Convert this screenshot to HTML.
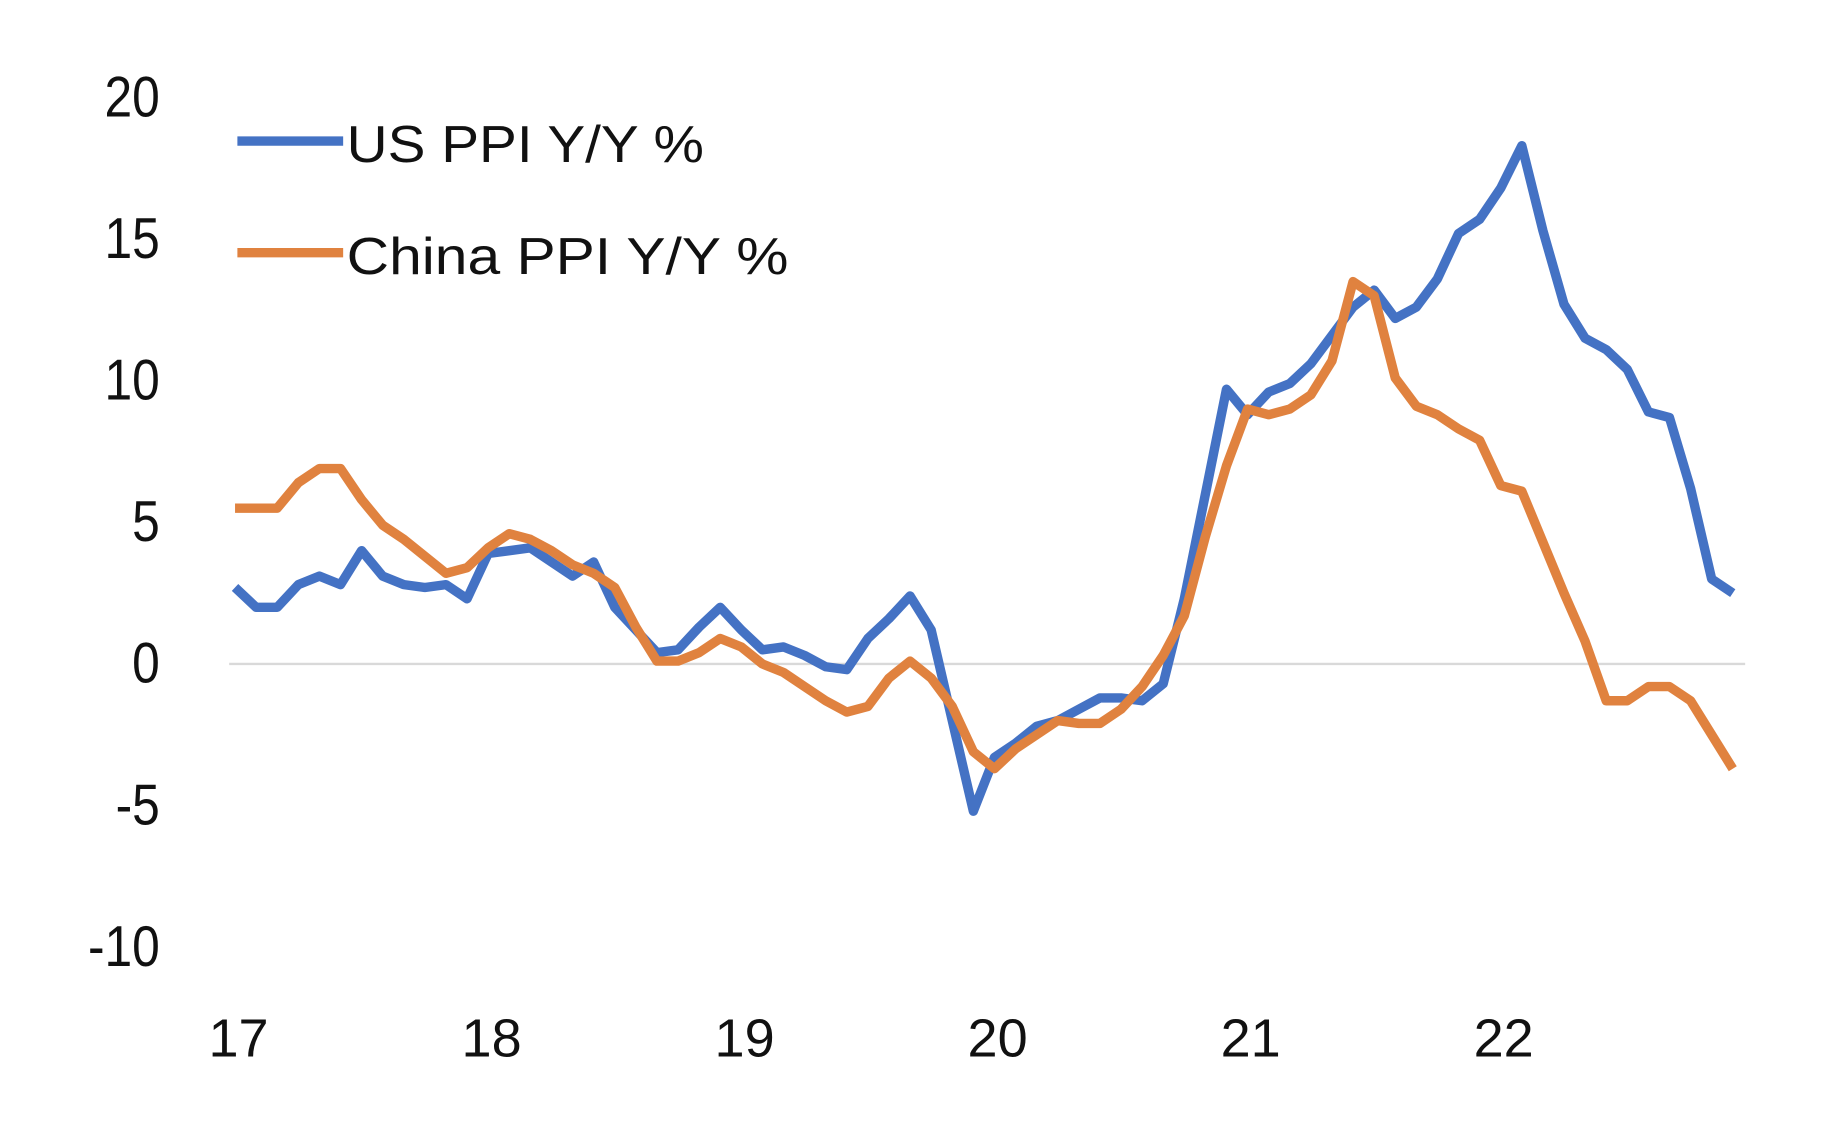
<!DOCTYPE html>
<html><head><meta charset="utf-8"><style>
html,body{margin:0;padding:0;background:#fff;}
svg{display:block;}
text{font-family:"Liberation Sans",sans-serif;fill:#111;}
</style></head>
<body>
<svg width="1838" height="1124" viewBox="0 0 1564 956.5" preserveAspectRatio="none" xmlns="http://www.w3.org/2000/svg">
<g id="yaxis"></g>
<g id="xaxis"></g>
<line id="zero" stroke="#d9d9d9" stroke-width="2"></line>
<g id="series"></g>
<g>
  <g>
    <line x1="202" y1="120" x2="292" y2="120" stroke="#4472C4" stroke-width="8"/>
    <text x="295" y="138" font-size="44" textLength="304" lengthAdjust="spacingAndGlyphs">US PPI Y/Y %</text>
  </g>
  <g>
    <line x1="202" y1="215" x2="292" y2="215" stroke="#E0823F" stroke-width="8"/>
    <text x="295" y="233" font-size="44" textLength="376" lengthAdjust="spacingAndGlyphs">China PPI Y/Y %</text>
  </g>
</g>
</svg>
<script>
const yTicks = [20, 15, 10, 5, 0, -5, -10];
const xLabels = ["17", "18", "19", "20", "21", "22"];
const usPPI = [2.7,2.0,2.0,2.8,3.1,2.8,4.0,3.1,2.8,2.7,2.8,2.3,
 3.9,4.0,4.1,3.6,3.1,3.6,2.0,1.2,0.4,0.5,1.3,2.0,
 1.2,0.5,0.6,0.3,-0.1,-0.2,0.9,1.6,2.4,1.2,-2.0,-5.2,
 -3.3,-2.8,-2.2,-2.0,-1.6,-1.2,-1.2,-1.3,-0.7,2.3,6.0,9.7,
 8.8,9.6,9.9,10.6,11.6,12.6,13.2,12.2,12.6,13.6,15.2,15.7,
 16.8,18.3,15.3,12.7,11.5,11.1,10.4,8.9,8.7,6.2,3.0,2.5];
const chinaPPI = [5.5,5.5,5.5,6.4,6.9,6.9,5.8,4.9,4.4,3.8,3.2,3.4,
 4.1,4.6,4.4,4.0,3.5,3.2,2.7,1.3,0.1,0.1,0.4,0.9,
 0.6,0.0,-0.3,-0.8,-1.3,-1.7,-1.5,-0.5,0.1,-0.5,-1.5,-3.1,
 -3.7,-3.0,-2.5,-2.0,-2.1,-2.1,-1.6,-0.8,0.3,1.7,4.5,7.0,
 9.0,8.8,9.0,9.5,10.7,13.5,13.0,10.1,9.1,8.8,8.3,7.9,
 6.3,6.1,4.3,2.5,0.8,-1.3,-1.3,-0.8,-0.8,-1.3,-2.5,-3.7];

const NS = "http://www.w3.org/2000/svg";
function yScale(v){ return 565 - v * 24.1; }
function xScale(i){ return 200 + i * 17.95; }
function yearX(k){ return 203 + k * 215.3; }

const yaxis = document.getElementById('yaxis');
yTicks.forEach(v => {
  const t = document.createElementNS(NS, 'text');
  
  
  const by = yScale(v) + 16;
  t.setAttribute('x', 0);
  t.setAttribute('y', 0);
  t.setAttribute('font-size', '46');
  t.setAttribute('text-anchor', 'end');
  t.setAttribute('transform', 'translate(136,' + by + ') scale(0.92,1.06)');
  t.textContent = String(v);
  yaxis.appendChild(t);
});
const xaxis = document.getElementById('xaxis');
xLabels.forEach((s, k) => {
  const t = document.createElementNS(NS, 'text');
  
  
  t.setAttribute('x', yearX(k));
  t.setAttribute('y', 899);
  t.setAttribute('font-size', '46');
  t.setAttribute('text-anchor', 'middle');
  t.textContent = s;
  xaxis.appendChild(t);
});
const z = document.getElementById('zero');
z.setAttribute('x1', 195); z.setAttribute('x2', 1485);
z.setAttribute('y1', yScale(0)); z.setAttribute('y2', yScale(0));

const series = document.getElementById('series');
function drawLine(vals, color, name){
  const p = document.createElementNS(NS, 'polyline');
  
  
  p.setAttribute('points', vals.map((v,i) => xScale(i) + ',' + yScale(v)).join(' '));
  p.setAttribute('fill', 'none');
  p.setAttribute('stroke', color);
  p.setAttribute('stroke-width', '8');
  p.setAttribute('stroke-linejoin', 'round');
  series.appendChild(p);
}
drawLine(usPPI, '#4472C4', 'us-ppi-line');
drawLine(chinaPPI, '#E0823F', 'china-ppi-line');
</script>
</body></html>
